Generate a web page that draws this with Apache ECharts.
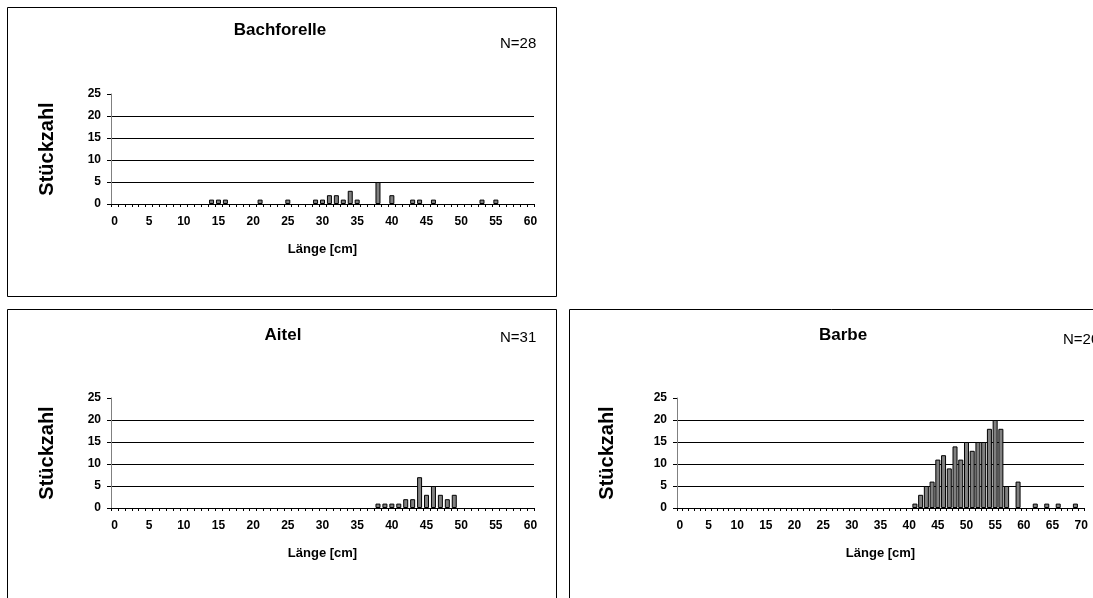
<!DOCTYPE html>
<html><head><meta charset="utf-8">
<script src="https://cdn.jsdelivr.net/npm/echarts@6/dist/echarts.min.js"></script>
<style>html,body{margin:0;padding:0;background:#fff}#c{width:1093px;height:598px}</style>
</head><body><div id="c"></div>
<script>
// ---- data ----
const panelTitles = ['Bachforelle', 'Aitel', 'Barbe'];
const nLabels = ['N=28', 'N=31', 'N=201'];
const yAxisName = 'Stückzahl';
const xAxisName = 'Länge [cm]';
const maxLen60 = 60;
const maxLen70 = 70;
const bachLen   = [14, 15, 16, 21, 25, 29, 30, 31, 32, 33, 34, 35, 38, 40, 43, 44, 46, 53, 55];
const bachCount = [ 1,  1,  1,  1,  1,  1,  1,  2,  2,  1,  3,  1,  5,  2,  1,  1,  1,  1,  1];
const aitelLen   = [38, 39, 40, 41, 42, 43, 44, 45, 46, 47, 48, 49];
const aitelCount = [ 1,  1,  1,  1,  2,  2,  7,  3,  5,  3,  2,  3];
const barbeLen   = [41, 42, 43, 44, 45, 46, 47, 48, 49, 50, 51, 52, 53, 54, 55, 56, 57, 59, 62, 64, 66, 69];
const barbeCount = [ 1,  3,  5,  6, 11, 12,  9, 14, 11, 15, 13, 15, 15, 18, 20, 18,  5,  6,  1,  1,  1,  1];
const yMax = 25, yStep = 5;

// ---- build ----
function cats(max) { const a = []; for (let i = 0; i <= max; i++) a.push(String(i)); return a; }
function full(max, lens, counts) {
  const a = []; for (let i = 0; i <= max; i++) a.push('-');
  lens.forEach((l, i) => { a[l] = counts[i]; });
  return a;
}
const FONT = 'Liberation Sans, Arial, sans-serif';
const grids = [
  { left: 111, top: 94, width: 423, height: 110 },
  { left: 111, top: 398, width: 423, height: 110 },
  { left: 677, top: 398, width: 407, height: 110 }
];
const yNameGaps = [54, 54, 60];
const catSets = [cats(maxLen60), cats(maxLen60), cats(maxLen70)];
const dataSets = [full(maxLen60, bachLen, bachCount), full(maxLen60, aitelLen, aitelCount), full(maxLen70, barbeLen, barbeCount)];

const xAxes = catSets.map((c, i) => ({
  type: 'category', gridIndex: i, data: c, boundaryGap: true,
  axisLine: { lineStyle: { color: '#000', width: 1 } },
  axisTick: { show: true, interval: 0, length: 3, lineStyle: { color: '#000' } },
  axisLabel: { interval: 4, color: '#000', fontFamily: FONT, fontWeight: 'bold', fontSize: 12, margin: 12 },
  name: xAxisName, nameLocation: 'middle', nameGap: 39,
  nameTextStyle: { color: '#000', fontFamily: FONT, fontWeight: 'bold', fontSize: 13 }
}));
const yAxes = grids.map((g, i) => ({
  type: 'value', gridIndex: i, min: 0, max: yMax, interval: yStep,
  axisLine: { show: true, lineStyle: { color: '#808080', width: 1 } },
  axisTick: { show: true, length: 4, lineStyle: { color: '#000' } },
  axisLabel: { color: '#000', fontFamily: FONT, fontWeight: 'bold', fontSize: 12, margin: 10 },
  splitLine: { show: true, lineStyle: { color: ['#000', '#000', '#000', '#000', '#000', 'rgba(0,0,0,0)'], width: 1 } },
  name: yAxisName, nameLocation: 'middle', nameRotate: 90, nameGap: yNameGaps[i],
  nameTextStyle: { color: '#000', fontFamily: FONT, fontWeight: 'bold', fontSize: 20 }
}));
const series = dataSets.map((d, i) => ({
  type: 'bar', xAxisIndex: i, yAxisIndex: i, data: d,
  barWidth: 5,
  itemStyle: { color: '#808080', borderColor: '#000', borderWidth: 1 },
  animation: false
}));
const titleCenters = [[280, 30], [283, 335], [843, 335]];
const nPos = [[500, 44], [500, 338], [1063, 340]];
const graphics = [
  { type: 'rect', shape: { x: 7.5, y: 7.5, width: 549, height: 289 }, style: { fill: 'none', stroke: '#000', lineWidth: 1 } },
  { type: 'rect', shape: { x: 7.5, y: 309.5, width: 549, height: 320 }, style: { fill: 'none', stroke: '#000', lineWidth: 1 } },
  { type: 'rect', shape: { x: 569.5, y: 309.5, width: 600, height: 320 }, style: { fill: 'none', stroke: '#000', lineWidth: 1 } }
];
panelTitles.forEach((t, i) => {
  graphics.push({ type: 'text', x: titleCenters[i][0], y: titleCenters[i][1],
    style: { text: t, fill: '#000', font: 'bold 17px ' + FONT, textAlign: 'center', textVerticalAlign: 'middle' } });
  graphics.push({ type: 'text', x: nPos[i][0], y: nPos[i][1],
    style: { text: nLabels[i], fill: '#000', font: '15px ' + FONT, textAlign: 'left', textVerticalAlign: 'middle' } });
});

const chart = echarts.init(document.getElementById('c'), null, { renderer: 'canvas' });
chart.setOption({
  animation: false,
  backgroundColor: '#fff',
  grid: grids,
  xAxis: xAxes,
  yAxis: yAxes,
  series: series,
  graphic: graphics
});
</script></body></html>
